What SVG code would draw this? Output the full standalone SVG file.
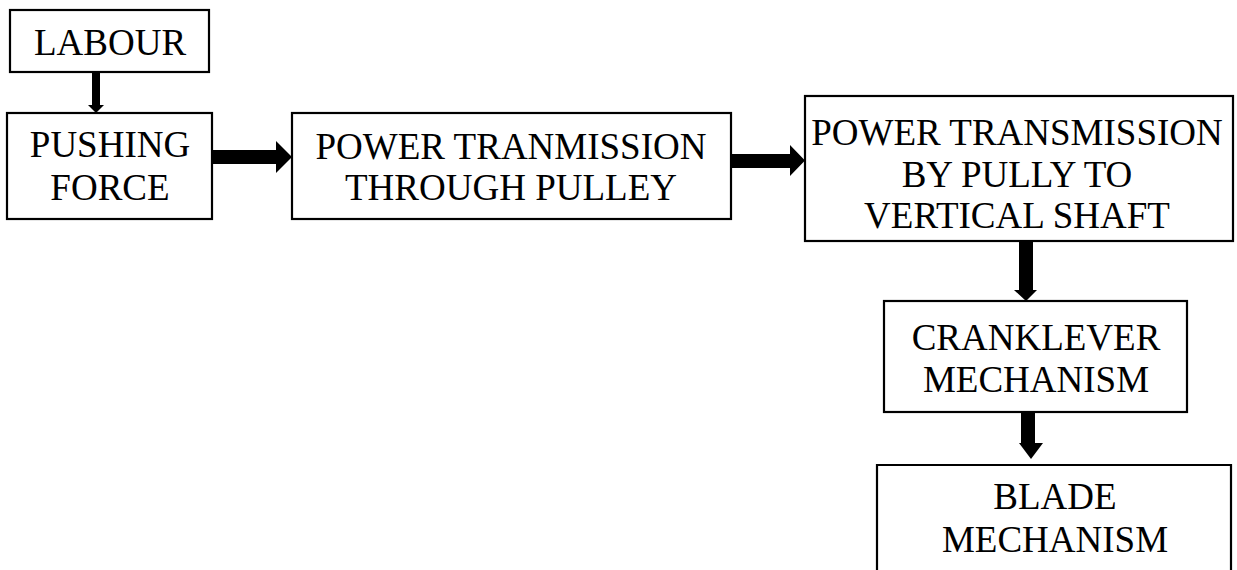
<svg xmlns="http://www.w3.org/2000/svg" width="1237" height="570" viewBox="0 0 1237 570">
<style>
.box{fill:#fff;stroke:#000;stroke-width:2.2}
.t{font-family:'Liberation Serif','Times New Roman','DejaVu Serif',serif;font-size:37px;fill:#000;text-anchor:middle}
.ar{fill:#000}
</style>
<rect width="1237" height="570" fill="#fff"/>
<g id="labour"><rect class="box" x="10" y="10" width="199" height="62"/><text class="t" x="110" y="55">LABOUR</text></g>
<g id="pushing"><rect class="box" x="7" y="113" width="205" height="106"/><text class="t" x="110" y="157">PUSHING</text><text class="t" x="110" y="200">FORCE</text></g>
<g id="pulley"><rect class="box" x="292" y="113" width="439" height="106"/><text class="t" x="511" y="159">POWER TRANMISSION</text><text class="t" x="511" y="200">THROUGH PULLEY</text></g>
<g id="shaft"><rect class="box" x="805" y="96" width="428" height="145"/><text class="t" x="1017" y="145">POWER TRANSMISSION</text><text class="t" x="1017" y="187">BY PULLY TO</text><text class="t" x="1017" y="228">VERTICAL SHAFT</text></g>
<g id="crank"><rect class="box" x="884" y="301" width="303" height="111"/><text class="t" x="1036" y="350">CRANKLEVER</text><text class="t" x="1036" y="392">MECHANISM</text></g>
<g id="blade"><path class="box" d="M877,571 V465 H1231 V571"/><text class="t" x="1055" y="509">BLADE</text><text class="t" x="1055" y="552">MECHANISM</text></g>
<g id="connectors">
<polygon class="ar" points="92,72 100,72 100,105 104,105 96,113 88,105 92,105"/>
<polygon class="ar" points="212,150 276,150 276,141 292,157 276,173 276,164 212,164"/>
<polygon class="ar" points="731,154 790,154 790,145 805,160.5 790,176 790,168 731,168"/>
<polygon class="ar" points="1019,241 1033,241 1033,290 1037,290 1026,301 1014,290 1019,290"/>
<polygon class="ar" points="1021,412 1035,412 1035,443 1043,443 1031,459 1019,443 1021,443"/>
</g>
</svg>
